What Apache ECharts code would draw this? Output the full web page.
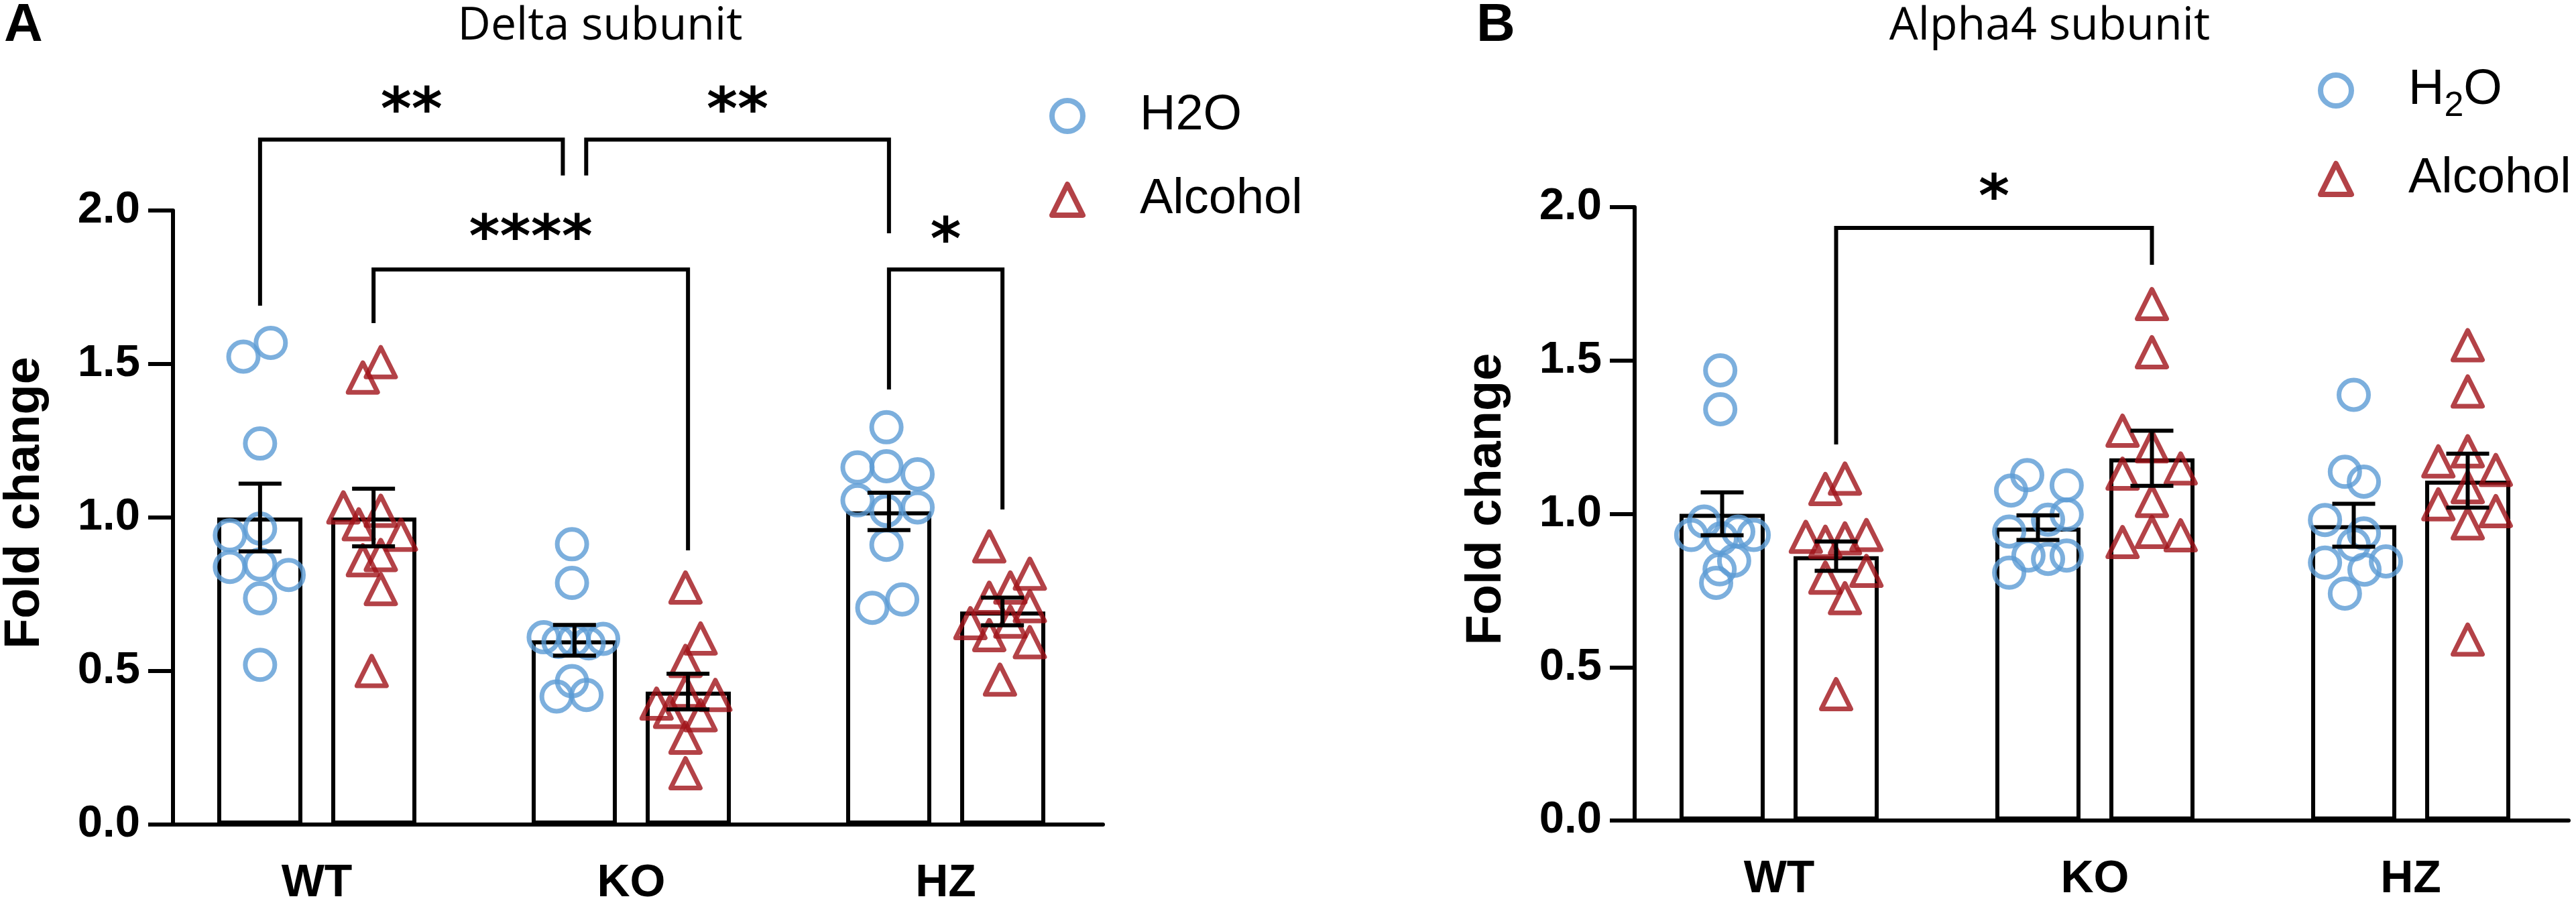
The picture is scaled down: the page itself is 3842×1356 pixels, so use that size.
<!DOCTYPE html>
<html>
<head>
<meta charset="utf-8">
<script src="https://cdn.jsdelivr.net/npm/echarts@6/dist/echarts.min.js"></script>
<style>
html,body{margin:0;padding:0;background:#ffffff;}
#chart{width:3842px;height:1356px;}
</style>
</head>
<body>
<div id="chart"></div>
<script>
// ---------------- DATA ----------------
const categories = ['WT', 'KO', 'HZ'];
const yTicks = [0, 0.5, 1.0, 1.5, 2.0];

// Panel A: Delta subunit
const deltaH2OMean = [1.00, 0.60, 1.02];
const deltaH2OSem  = [0.11, 0.05, 0.061];
const deltaAlcMean = [1.00, 0.433, 0.694];
const deltaAlcSem  = [0.094, 0.058, 0.045];

const deltaH2OPoints = [
  [1.569, 1.524, 1.241, 0.964, 0.942, 0.839, 0.847, 0.813, 0.737, 0.520],
  [0.913, 0.787, 0.610, 0.595, 0.600, 0.590, 0.605, 0.417, 0.467, 0.422],
  [1.294, 1.163, 1.167, 1.141, 1.056, 1.022, 1.033, 0.911, 0.706, 0.733]
];
const deltaH2OJitter = [
  [0.034, -0.053, 0, 0, -0.096, -0.096, 0, 0.091, 0, 0],
  [-0.008, -0.008, -0.098, -0.051, -0.002, 0.045, 0.091, -0.057, -0.008, 0.038],
  [-0.008, -0.100, -0.008, 0.091, -0.100, -0.008, 0.091, -0.008, -0.053, 0.042]
];
const deltaAlcPoints = [
  [1.506, 1.456, 1.033, 1.022, 0.978, 0.944, 0.878, 0.861, 0.767, 0.500],
  [0.772, 0.606, 0.533, 0.394, 0.422, 0.433, 0.367, 0.356, 0.283, 0.167],
  [0.906, 0.817, 0.772, 0.739, 0.711, 0.656, 0.661, 0.617, 0.594, 0.472]
];
const deltaAlcJitter = [
  [0.023, -0.034, -0.096, 0.023, -0.047, 0.087, 0.023, -0.034, 0.023, -0.006],
  [-0.008, 0.040, -0.008, -0.100, 0.087, -0.008, -0.057, 0.040, -0.008, -0.008],
  [-0.042, 0.087, 0.025, -0.042, 0.087, -0.102, 0.025, -0.042, 0.087, -0.008]
];

// Panel B: Alpha4 subunit
const alphaH2OMean = [1.00, 0.955, 0.963];
const alphaH2OSem  = [0.07, 0.04, 0.07];
const alphaAlcMean = [0.862, 1.181, 1.108];
const alphaAlcSem  = [0.048, 0.09, 0.088];

const alphaH2OPoints = [
  [1.468, 1.341, 0.975, 0.931, 0.942, 0.931, 0.920, 0.847, 0.819, 0.775],
  [1.076, 1.126, 1.093, 0.998, 0.981, 0.942, 0.864, 0.853, 0.864, 0.808],
  [1.388, 1.137, 1.105, 0.980, 0.936, 0.900, 0.841, 0.845, 0.818, 0.740]
];
const alphaH2OJitter = [
  [-0.006, -0.006, -0.057, -0.098, 0.051, 0.100, -0.002, 0.038, -0.008, -0.019],
  [-0.085, -0.034, 0.091, 0.091, 0.032, -0.091, -0.030, 0.032, 0.091, -0.091],
  [0, -0.028, 0.032, -0.091, 0.032, 0, -0.091, 0.102, 0.034, -0.028]
];
const alphaAlcPoints = [
  [1.115, 1.081, 0.925, 0.909, 0.920, 0.931, 0.792, 0.814, 0.725, 0.412],
  [1.684, 1.527, 1.271, 1.220, 1.131, 1.148, 1.042, 0.908, 0.941, 0.930],
  [1.550, 1.399, 1.204, 1.171, 1.143, 1.087, 1.031, 1.009, 0.969, 0.590]
];
const alphaAlcJitter = [
  [0.028, -0.034, -0.096, -0.034, 0.028, 0.096, -0.034, 0.096, 0.028, 0],
  [0, 0, -0.093, 0, -0.093, 0.091, 0, -0.093, 0, 0.091],
  [0, 0, 0, -0.093, 0.089, 0, -0.093, 0.089, 0, 0]
];

// Significance annotations: [group1, series1, group2, series2, bracket level, leg1 end, leg2 end, label level, split1, split2]
// series: -1 = H2O bar, +1 = Alcohol bar ; split shifts the leg a little (-1/0/+1)
const deltaSigText = ['**', '**', '****', '*'];
const deltaSig = [
  [0, -1, 1, -1, 2.231, 1.690, 2.114, 2.362, 0, -1],
  [1, -1, 2, -1, 2.231, 2.114, 1.926, 2.362, 1, 0],
  [0, 1, 1, 1, 1.808, 1.633, 0.893, 1.948, 0, 0],
  [2, -1, 2, 1, 1.808, 1.417, 1.026, 1.939, 0, 0]
];
const alphaSigText = ['*'];
const alphaSig = [
  [0, 1, 1, 1, 1.932, 1.226, 1.812, 2.068, 0, 0]
];

// ---------------- STYLE / LAYOUT ----------------
const BLUE = '#5b9bd5';
const RED = '#a01319';
const FONT = '"Liberation Sans", Arial, sans-serif';
const BAND_PX = 471;       // width of one category band
const BAR_W = 127;
const BAR_GAP_PX = 43;
const BAR_OFF = (BAR_W + BAR_GAP_PX) / 2 / BAND_PX;   // bar centre offset in category units
const SPLIT = 17.5 / BAND_PX;

function pointsData(points, jitter, sign) {
  const out = [];
  points.forEach((arr, g) => arr.forEach((v, k) => out.push([g + sign * BAR_OFF + jitter[g][k], v])));
  return out;
}
function errData(mean, sem, sign) {
  return mean.map((m, g) => [g + sign * BAR_OFF, m, sem[g]]);
}
function sigData(list) {
  return list.map(s => [s[0] + s[1] * BAR_OFF + s[8] * SPLIT, s[4], s[2] + s[3] * BAR_OFF + s[9] * SPLIT, s[5], s[6], s[7]]);
}

function errRender(params, api) {
  const x = api.value(0), m = api.value(1), s = api.value(2);
  const top = api.coord([x, m + s]);
  const bot = api.coord([x, m - s]);
  const cx = top[0], hw = 32;
  const st = { stroke: '#000', lineWidth: 6 };
  return { type: 'group', children: [
    { type: 'line', shape: { x1: cx, y1: top[1], x2: cx, y2: bot[1] }, style: st },
    { type: 'line', shape: { x1: cx - hw, y1: top[1], x2: cx + hw, y2: top[1] }, style: st },
    { type: 'line', shape: { x1: cx - hw, y1: bot[1], x2: cx + hw, y2: bot[1] }, style: st }
  ]};
}
function makeSigRender(texts) {
  return function (params, api) {
    const x1 = api.value(0), yb = api.value(1), x2 = api.value(2);
    const l1 = api.value(3), l2 = api.value(4), yl = api.value(5);
    const a = api.coord([x1, l1]), b = api.coord([x1, yb]), c = api.coord([x2, yb]), d = api.coord([x2, l2]);
    const t = api.coord([(x1 + x2) / 2, yl]);
    return { type: 'group', children: [
      { type: 'polyline', shape: { points: [a, b, c, d] }, style: { stroke: '#000', lineWidth: 6, fill: null, lineJoin: 'miter' } },
      { type: 'text', x: t[0], y: t[1] + 21, style: { text: texts[params.dataIndex], fontFamily: 'DejaVu Sans', fontWeight: 'bold', fontSize: 88, fill: '#000', align: 'center', verticalAlign: 'middle' } }
    ]};
  };
}

function yAxisCfg(gi) {
  return {
    gridIndex: gi, type: 'value', min: yTicks[0], max: yTicks[yTicks.length - 1], interval: 0.5, offset: -20,
    axisLine: { show: true, onZero: false, lineStyle: { color: '#000', width: 6 } },
    axisTick: { show: true, length: 37, lineStyle: { color: '#000', width: 6 } },
    splitLine: { show: false },
    axisLabel: { fontFamily: FONT, fontWeight: 'bold', fontSize: 67, color: '#000', margin: 49, formatter: v => v.toFixed(1) },
    name: 'Fold change', nameLocation: 'middle', nameGap: 183, nameRotate: 90,
    nameTextStyle: { fontFamily: FONT, fontWeight: 'bold', fontSize: 74, color: '#000', padding: [0, 0, 0, 44] }
  };
}
function xCatCfg(gi) {
  return {
    gridIndex: gi, type: 'category', data: categories,
    axisLine: { onZero: false, lineStyle: { color: '#000', width: 6 } },
    axisTick: { alignWithLabel: true, length: 40, lineStyle: { color: '#000', width: 5 } },
    axisLabel: { fontFamily: FONT, fontWeight: 'bold', fontSize: 68, color: '#000', margin: 54 }
  };
}
function xValCfg(gi) {
  return { gridIndex: gi, type: 'value', min: -0.5, max: 2.5, show: false };
}
function barSeries(name, data, xi, yi) {
  return { type: 'bar', name: name, xAxisIndex: xi, yAxisIndex: yi, data: data, barWidth: BAR_W,
    barGap: (BAR_GAP_PX / BAR_W * 100).toFixed(1) + '%', z: 2, silent: true,
    itemStyle: { color: '#fff', borderColor: '#000', borderWidth: 6 } };
}
function scatterSeries(name, data, xi, yi, isTri) {
  return { type: 'scatter', name: name, xAxisIndex: xi, yAxisIndex: yi, data: data, z: 3, silent: true,
    symbol: isTri ? 'triangle' : 'circle', symbolSize: isTri ? [44, 44] : 44,
    itemStyle: { color: 'rgba(0,0,0,0)', borderColor: isTri ? RED : BLUE, borderWidth: 7, borderJoin: 'round' } };
}
function errSeries(data, xi, yi) {
  return { type: 'custom', xAxisIndex: xi, yAxisIndex: yi, data: data, renderItem: errRender, z: 4, silent: true, clip: false,
    encode: { x: 0, y: 1 } };
}
function sigSeries(data, texts, xi, yi) {
  return { type: 'custom', xAxisIndex: xi, yAxisIndex: yi, data: data, renderItem: makeSigRender(texts), z: 5, silent: true, clip: false,
    encode: { x: 0, y: 1 } };
}
function legendCfg(left, top, gap, sub) {
  return {
    orient: 'vertical', left: left, top: top, padding: 0, itemGap: gap, itemWidth: 46, itemHeight: 46, selectedMode: false,
    data: [
      { name: 'H2O', icon: 'circle', itemStyle: { color: 'rgba(0,0,0,0)', borderColor: BLUE, borderWidth: 8 } },
      { name: 'Alcohol', icon: 'triangle', itemStyle: { color: 'rgba(0,0,0,0)', borderColor: RED, borderWidth: 8, borderJoin: 'round' } }
    ],
    formatter: sub ? (n => n === 'H2O' ? 'H{sub|2}O' : n) : (n => n),
    textStyle: { fontFamily: FONT, fontSize: 74, lineHeight: 74, color: '#000', padding: [0, 0, 0, 80],
      rich: { sub: { fontFamily: FONT, fontSize: 52, lineHeight: 52, color: '#000', padding: [48, 0, 0, 0] } } }
  };
}
function txt(x, y, text, family, weight, size) {
  return { type: 'text', x: x, y: y, style: { text: text, fontFamily: family, fontWeight: weight, fontSize: size, fill: '#000', align: 'center', verticalAlign: 'middle' } };
}

const option = {
  backgroundColor: '#ffffff',
  animation: false,
  grid: [
    { left: 232, top: 314, width: 1413, height: 916 },
    { left: 2418, top: 309, width: 1413, height: 915 }
  ],
  xAxis: [xCatCfg(0), xValCfg(0), xCatCfg(1), xValCfg(1)],
  yAxis: [yAxisCfg(0), yAxisCfg(1)],
  legend: [legendCfg(1565, 136, 51, false), legendCfg(3457, 85, 45, true)],
  graphic: [
    txt(35, 39, 'A', 'Liberation Sans', 'bold', 80),
    txt(2231, 39, 'B', 'Liberation Sans', 'bold', 80),
    txt(895, 40, 'Delta subunit', 'Open Sans', 'normal', 68),
    txt(3057, 40, 'Alpha4 subunit', 'Open Sans', 'normal', 68)
  ],
  series: [
    barSeries('H2O mean A', deltaH2OMean, 0, 0),
    barSeries('Alcohol mean A', deltaAlcMean, 0, 0),
    scatterSeries('H2O', pointsData(deltaH2OPoints, deltaH2OJitter, -1), 1, 0, false),
    scatterSeries('Alcohol', pointsData(deltaAlcPoints, deltaAlcJitter, 1), 1, 0, true),
    errSeries(errData(deltaH2OMean, deltaH2OSem, -1), 1, 0),
    errSeries(errData(deltaAlcMean, deltaAlcSem, 1), 1, 0),
    sigSeries(sigData(deltaSig), deltaSigText, 1, 0),

    barSeries('H2O mean B', alphaH2OMean, 2, 1),
    barSeries('Alcohol mean B', alphaAlcMean, 2, 1),
    scatterSeries('H2O', pointsData(alphaH2OPoints, alphaH2OJitter, -1), 3, 1, false),
    scatterSeries('Alcohol', pointsData(alphaAlcPoints, alphaAlcJitter, 1), 3, 1, true),
    errSeries(errData(alphaH2OMean, alphaH2OSem, -1), 3, 1),
    errSeries(errData(alphaAlcMean, alphaAlcSem, 1), 3, 1),
    sigSeries(sigData(alphaSig), alphaSigText, 3, 1)
  ]
};

const chart = echarts.init(document.getElementById('chart'), null, { renderer: 'canvas' });
chart.setOption(option);
</script>
</body>
</html>
